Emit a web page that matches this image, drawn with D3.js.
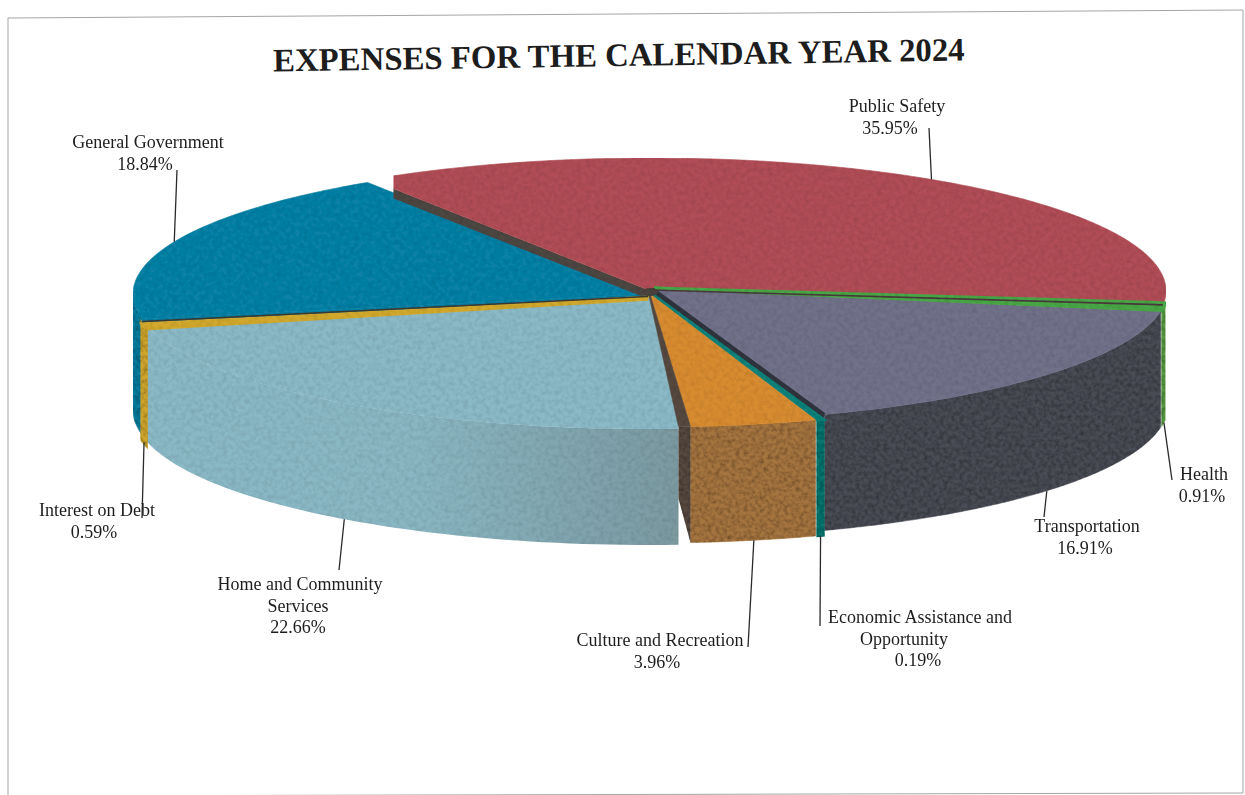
<!DOCTYPE html>
<html>
<head>
<meta charset="utf-8">
<title>Expenses for the calendar year 2024</title>
<script src="https://cdn.jsdelivr.net/npm/d3@7/dist/d3.min.js"></script>
<style>
  html, body { margin: 0; padding: 0; background: #fff; }
  svg { display: block; }
  text { font-family: "Liberation Serif", serif; fill: #1d1d1d; }
</style>
</head>
<body>
<svg id="chart" width="1245" height="795"></svg>
<script>
// Budget shares, in percent of total expenses
const categories = [
  "Public Safety", "Health", "Transportation", "Economic Assistance and Opportunity",
  "Culture and Recreation", "Home and Community Services", "Interest on Debt", "General Government"
];
const shares = [35.95, 0.91, 16.91, 0.19, 3.96, 22.66, 0.59, 18.84];
const chartTitle = "EXPENSES FOR THE CALENDAR YEAR 2024";

// Face colours, per category
const topColors  = ["#b04e56", "#4aa846", "#71718a", "#12827a", "#d88c30", "#8bb9c6", "#d2a92f", "#0f80a5"];
const wallColors = ["#8a3a40", "#55983f", "#484b55", "#0f746d", "#a5743f", "url(#homeWall)", "#cfa52f", "#0f7c9c"];

// Where each slice sits relative to the pie centre
const sliceShift = [[0,0],[3,-3],[2,-2],[1,3],[-1,3],[-2,5],[-3,8],[-3,3]];

// Label blocks: text lines, anchor x, first baseline, leader end, position of the leader along the slice edge
const labelLayout = [
  { lines:["Public Safety","35.95%"], xs:[897,890], y:112, end:[929,128], along:0.51 },
  { lines:["Health","0.91%"], xs:[1204,1202], y:480, end:[1172,480], along:0.5 },
  { lines:["Transportation","16.91%"], xs:[1087,1085], y:532, end:[1044,517], along:0.5 },
  { lines:["Economic Assistance and","Opportunity","0.19%"], xs:[920,904,918], y:623, end:[820,626], along:0.5 },
  { lines:["Culture and Recreation","3.96%"], xs:[660,657], y:646, end:[748,647], along:0.5 },
  { lines:["Home and Community","Services","22.66%"], xs:[300,298,298], y:590, end:[339,570], along:0.5 },
  { lines:["Interest on Debt","0.59%"], xs:[97,94], y:516, end:[142,518], along:0.5 },
  { lines:["General Government","18.84%"], xs:[148,145], y:148, end:[177,170], along:0.5 }
];

const svg = d3.select("#chart");
const cx = 651, cy = 291, rx = 515, ry = 133, depth = 116;
const toRad = Math.PI / 180;
const rotation = -33 * toRad;

// Pie layout in clockwise radians, drawn on a tilted disc
const arcs = d3.pie().sort(null).value(d => d)
  .startAngle(rotation).endAngle(rotation + 2 * Math.PI)(shares);

const project = (a, i, z = 0) => [
  cx + sliceShift[i][0] + rx * Math.sin(a),
  cy + sliceShift[i][1] - ry * Math.cos(a) + z
];
const apex = i => [cx + sliceShift[i][0], cy + sliceShift[i][1]];
const line = d3.line();

function rim(a0, a1, i, z = 0) {
  const n = Math.max(2, Math.ceil((a1 - a0) / (1.5 * toRad)));
  return d3.range(n + 1).map(k => project(a0 + (a1 - a0) * k / n, i, z));
}
const closed = pts => line(pts) + "Z";

// Definitions: grain for the scanned print texture, gradient for the long front wall
const defs = svg.append("defs");
function grain(id, slope, offset, freq) {
  const f = defs.append("filter").attr("id", id)
    .attr("x", 0).attr("y", 0).attr("width", 1).attr("height", 1);
  f.append("feTurbulence").attr("type", "fractalNoise").attr("baseFrequency", freq)
    .attr("numOctaves", 2).attr("seed", 7).attr("result", "noise");
  f.append("feColorMatrix").attr("in", "noise").attr("type", "matrix")
    .attr("values", `0 0 0 0 0  0 0 0 0 0  0 0 0 0 0  ${slope} 0 0 0 ${offset}`)
    .attr("result", "speck");
  f.append("feComposite").attr("in", "speck").attr("in2", "SourceGraphic")
    .attr("operator", "in").attr("result", "clipped");
  const m = f.append("feMerge");
  m.append("feMergeNode").attr("in", "SourceGraphic");
  m.append("feMergeNode").attr("in", "clipped");
}
grain("grainTop", 0.4, -0.15, 0.22);
grain("grainWall", 1.0, -0.36, 0.25);

const homeGrad = defs.append("linearGradient").attr("id", "homeWall");
[[0, "#8bb9c6"], [0.5, "#89b6c2"], [0.8, "#80a4ae"], [1, "#7c989f"]].forEach(([o, c]) =>
  homeGrad.append("stop").attr("offset", o).attr("stop-color", c));

// Page frame, slightly askew as on the printed sheet
svg.append("path").attr("fill", "none").attr("stroke", "#a5a5a5").attr("stroke-width", 1)
  .attr("d", "M8,18L1243,10L1243,793L8,796Z");

// Title
svg.append("text")
  .attr("transform", "translate(619,66) rotate(-0.9)")
  .attr("text-anchor", "middle")
  .attr("font-size", 32.8).attr("font-weight", "bold")
  .text(chartTitle);

const SAFETY = 0, HEALTH = 1, TRANSPORT = 2, ECONOMIC = 3, CULTURE = 4, HOME = 5, INTEREST = 6, GENERAL = 7;
const cc = project(arcs[CULTURE].endAngle, CULTURE);
const wallInset = 12;

// The two neighbouring slices part at the front, leaving a gap on the right of the long wall
defs.append("clipPath").attr("id", "homeClip").append("rect")
  .attr("x", 0).attr("y", 0).attr("height", 795).attr("width", cc[0] - wallInset);
const safetyCorner = project(arcs[SAFETY].startAngle + 3 * toRad, SAFETY);
defs.append("clipPath").attr("id", "safetyClip").append("rect")
  .attr("x", safetyCorner[0]).attr("y", 0).attr("height", 795).attr("width", 1245);

// Outer walls; only the part facing the viewer is drawn
const wallFrom = 97 * toRad, wallTo = 270 * toRad;
const wrap = a => a < 0 ? a + 2 * Math.PI : a;
const wallStroke = { [INTEREST]: 3.5, [ECONOMIC]: 2.5 };
function wall(group, i) {
  const a0 = Math.max(wrap(arcs[i].startAngle), wallFrom);
  const a1 = Math.min(wrap(arcs[i].endAngle), wallTo);
  if (a1 <= a0) return;
  const pts = rim(a0, a1, i).concat(rim(a0, a1, i, depth).reverse());
  group.append("path").attr("d", closed(pts))
    .attr("fill", wallColors[i])
    .attr("stroke", i === HOME ? "none" : wallColors[i])
    .attr("stroke-width", wallStroke[i] || 0.5)
    .attr("clip-path", i === HOME ? "url(#homeClip)" : null);
}
const softWalls = svg.append("g").attr("filter", "url(#grainTop)");
wall(softWalls, HOME);
const walls = svg.append("g").attr("filter", "url(#grainWall)");
[GENERAL, INTEREST, HEALTH, TRANSPORT, CULTURE, ECONOMIC].forEach(i => wall(walls, i));

// Dark inner wall standing at the left side of the Culture slice
walls.append("path").attr("fill", "#564a3f").attr("d", closed([
  [cc[0] - wallInset, cc[1]], cc, [cc[0], cc[1] + depth], [cc[0] - wallInset, cc[1] + depth * 0.62]
]));

// Top faces
const tops = svg.append("g").attr("filter", "url(#grainTop)");
function topFace(i) {
  return tops.append("path")
    .attr("d", closed([apex(i)].concat(rim(arcs[i].startAngle, arcs[i].endAngle, i))))
    .attr("fill", topColors[i]).attr("stroke", topColors[i]).attr("stroke-width", 0.6);
}
// Closes the space between two shifted slices along their shared cut
function cutFill(angle, i, j, color) {
  tops.append("path").attr("fill", color).attr("stroke", color).attr("stroke-width", 0.6)
    .attr("d", closed([apex(i), project(angle, i), project(angle, j), apex(j)]));
}

topFace(GENERAL);
cutFill(arcs[GENERAL].startAngle, GENERAL, INTEREST, topColors[GENERAL]);

// Narrow wall showing along the cut between General Government and Public Safety
const ps = project(arcs[SAFETY].startAngle, SAFETY);
const psClip = tops.append("g").attr("clip-path", "url(#safetyClip)");
psClip.append("path").attr("fill", "#4d4742").attr("d", closed([
  apex(SAFETY), ps, [ps[0], ps[1] + 10], [apex(SAFETY)[0], apex(SAFETY)[1] + 9]
]));
psClip.append("path")
  .attr("d", closed([apex(SAFETY)].concat(rim(arcs[SAFETY].startAngle, arcs[SAFETY].endAngle, SAFETY))))
  .attr("fill", topColors[SAFETY]).attr("stroke", topColors[SAFETY]).attr("stroke-width", 0.6);

cutFill(arcs[SAFETY].endAngle, SAFETY, HEALTH, "#4a3a3c");
topFace(TRANSPORT);
topFace(HEALTH).attr("stroke-width", 3);
topFace(HOME).attr("clip-path", "url(#homeClip)");
cutFill(arcs[HOME].endAngle, HOME, INTEREST, topColors[INTEREST]);
topFace(INTEREST).attr("stroke-width", 3.5);
cutFill(arcs[TRANSPORT].endAngle, TRANSPORT, ECONOMIC, "#33363f");
topFace(ECONOMIC).attr("stroke-width", 3);
topFace(CULTURE);

// Dark seams along the slice cuts
const seam = (i, angle, color, width, nudge = [0, 0]) => {
  const a = apex(i), r = project(angle, i);
  tops.append("path").attr("fill", "none").attr("stroke", color).attr("stroke-width", width)
    .attr("d", line([[a[0] + nudge[0], a[1] + nudge[1]], [r[0] + nudge[0], r[1] + nudge[1]]]));
};
seam(SAFETY, arcs[SAFETY].endAngle, "#4a3a3c", 1.6, [0, -1]);
seam(TRANSPORT, arcs[TRANSPORT].endAngle, "#33363f", 3);
seam(INTEREST, arcs[INTEREST].endAngle, "#3f3a30", 1.6, [0, -2.5]);

// Tapered inner wall beside the Culture top face
tops.append("path").attr("fill", "#564a3f").attr("stroke", "#564a3f").attr("stroke-width", 0.6)
  .attr("d", closed([apex(HOME), apex(CULTURE), cc, [cc[0] - wallInset, cc[1]]]));

// Small dark hub where the cuts meet
tops.append("ellipse").attr("cx", cx - 1).attr("cy", cy + 1).attr("rx", 8).attr("ry", 4)
  .attr("fill", "#4a433c");

// Labels and their leader lines, which start on the outer edge of each slice
const labels = svg.append("g");
labelLayout.forEach((lab, i) => {
  const at = arcs[i].startAngle + (arcs[i].endAngle - arcs[i].startAngle) * lab.along;
  const front = Math.cos(at) < 0;
  const start = project(at, i, front ? depth : 0);
  labels.append("path").attr("fill", "none").attr("stroke", "#2a2a2a").attr("stroke-width", 1.3)
    .attr("d", line([start, lab.end]));
  lab.lines.forEach((txt, k) => {
    labels.append("text").attr("x", lab.xs[k]).attr("y", lab.y + k * 21.7)
      .attr("text-anchor", "middle").attr("font-size", 18).text(txt);
  });
});
</script>
</body>
</html>
